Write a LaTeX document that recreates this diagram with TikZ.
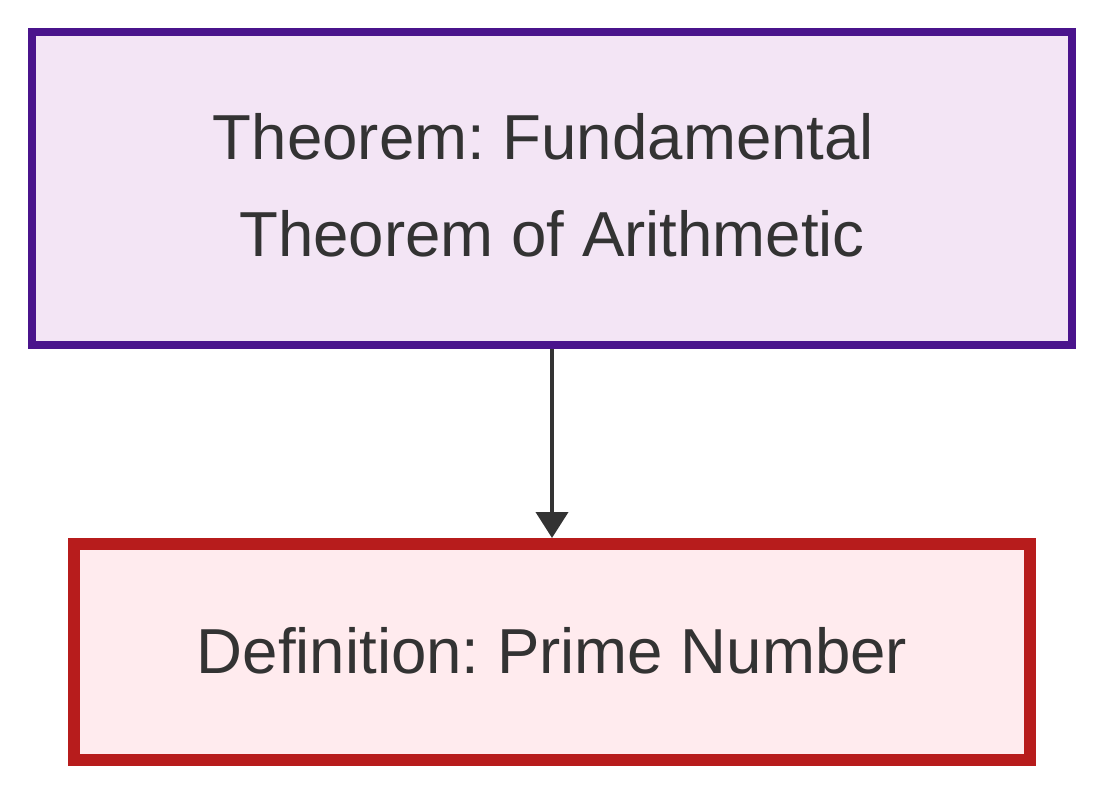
\documentclass[tikz,border=0pt]{standalone}
\usepackage{fontspec}
\setmainfont{Liberation Sans}
\usetikzlibrary{arrows.meta}
\frenchspacing
\definecolor{thmborder}{HTML}{4A148C}
\definecolor{thmfill}{HTML}{F3E5F5}
\definecolor{defborder}{HTML}{B71C1C}
\definecolor{deffill}{HTML}{FFEBEE}
\definecolor{ink}{HTML}{333333}
\tikzset{
  thmbox/.style={draw=thmborder, fill=thmfill, line width=6pt, minimum width=780pt, minimum height=234.75pt, inner sep=0pt},
  defbox/.style={draw=defborder, fill=deffill, line width=9pt, minimum width=717pt, minimum height=162pt, inner sep=0pt},
  lbl/.style={text=ink, font=\fontsize{47.7pt}{57pt}\selectfont, anchor=base, inner sep=0pt},
  conn/.style={draw=ink, line width=3pt, -{Triangle[length=19.5pt, width=24pt]}}
}
\begin{document}
\begin{tikzpicture}[x=0.75pt, y=-0.75pt]
\useasboundingbox (0,0) rectangle (1104,792);
\node[thmbox] (thm) at (552,188.5) {};
\node[defbox] (def) at (552,652) {};
\node[lbl] (t1) at (543.5,160) {Theorem: Fundamental};
\node[lbl] (t2) at (552,256) {Theorem of Arithmetic};
\node[lbl] (d1) at (552,673) {Definition: Prime Number};
\draw[conn] (thm.south) -- (def.north);
\end{tikzpicture}
\end{document}
